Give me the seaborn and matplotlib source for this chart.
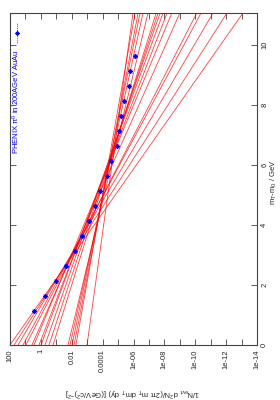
import matplotlib
matplotlib.use("Agg")
from matplotlib import pyplot as plt
import seaborn as sns
import pandas as pd

# PHENIX pi0 points (m_T - m_0 in GeV, invariant yield)
mt_data = [1.12, 1.62, 2.12, 2.62, 3.12, 3.62, 4.12, 4.62, 5.12,
           5.62, 6.12, 6.62, 7.12, 7.62, 8.12, 8.62, 9.12, 9.62]
yield_data = [2.8, 0.54, 0.105, 0.023, 6.2e-3, 2.2e-3, 7.6e-4, 3.1e-4, 1.5e-4,
              5.2e-5, 2.9e-5, 1.2e-5, 8.7e-6, 6.5e-6, 4.2e-6, 1.95e-6, 1.7e-6, 7.9e-7]

# exponential fits: log10 of yield at m_T-m_0 = 0 and slope in decades per GeV
fit_log_amp = [2.00, 1.74, 1.48, 1.16, 0.97, 0.58, 0.45, 0.12, -0.01, -0.27,
               -0.53, -0.79, -1.76, -1.89, -2.02, -2.15, -2.27, -2.99]
fit_slope = [-1.363, -1.246, -1.141, -1.042, -1.000, -0.866, -0.807, -0.749, -0.714,
             -0.673, -0.638, -0.603, -0.468, -0.427, -0.398, -0.375, -0.346, -0.269]
mt_range = [0.0, 12.0]

xtick_vals = [1e2, 1, 1e-2, 1e-4, 1e-6, 1e-8, 1e-10, 1e-12, 1e-14]
xtick_labels = ["100", "1", "0.01", "0.0001", "1e-06", "1e-08", "1e-10", "1e-12", "1e-14"]
xminor_vals = [1e1, 1e-1, 1e-3, 1e-5, 1e-7, 1e-9, 1e-11, 1e-13]
ytick_vals = [0, 2, 4, 6, 8, 10]

rows = []
for i, (a, s) in enumerate(zip(fit_log_amp, fit_slope)):
    for m in mt_range:
        rows.append({"fit": i, "mt": m, "y": 10 ** (a + s * m)})
fits = pd.DataFrame(rows)
points = pd.DataFrame({"mt": mt_data, "y": yield_data})

sns.set_style("ticks")
plt.rcParams["font.family"] = ["Liberation Sans", "DejaVu Sans"]
plt.rcParams["mathtext.default"] = "regular"

fig = plt.figure(figsize=(2.8, 4.0), dpi=100)
ax = fig.add_axes([10 / 280, 55 / 400, 247 / 280, 332 / 400])
ax.set_xscale("log")

sns.lineplot(data=fits, x="y", y="mt", units="fit", estimator=None, orient="y",
             color="red", lw=0.6, alpha=0.75, legend=False, ax=ax)
sns.scatterplot(data=points, x="y", y="mt", marker=(8, 2, 0), color="blue",
                s=9, linewidth=0.7, legend=False, ax=ax, zorder=5)

ax.set_xlim(1e2, 1e-14)
ax.set_ylim(0, 11.07)

ax.set_xticks(xtick_vals)
ax.set_xticklabels(xtick_labels, rotation=90, fontsize=5.5, va="top", ha="center")
ax.set_xticks(xminor_vals, minor=True)
ax.set_xticklabels([], minor=True)
ax.set_yticks(ytick_vals)
ax.set_yticklabels([str(v) for v in ytick_vals], rotation=90, fontsize=5.5,
                   va="center", ha="left")
ax.yaxis.tick_right()
ax.tick_params(axis="both", which="both", direction="in", top=True, bottom=True,
               left=True, right=True, width=0.6, color="#444444")
ax.tick_params(axis="both", which="major", length=4, pad=3)
ax.tick_params(axis="x", which="minor", length=4)
for sp in ax.spines.values():
    sp.set_linewidth(0.8)
    sp.set_color("#444444")

ax.set_xlabel("")
ax.set_ylabel("")
fig.text(133 / 280, 1 - 392 / 400,
         r"$1/N_{evt}\ d^2N/(2\pi\ m_T\ dm_T\ dy)\ [(GeV/c^2)^{-2}]$",
         rotation=180, fontsize=5.5, ha="center", va="center")
fig.text(274 / 280, 1 - 182 / 400, r"$m_T$-$m_0$ / GeV",
         rotation=90, fontsize=5.5, ha="center", va="center")

# key
ax.text(0.025, 0.889, r"PHENIX $\pi^0$ in 200AGeV AuAu", transform=ax.transAxes,
        rotation=90, fontsize=5.5, color="blue", ha="center", va="top")
ax.plot([0.028, 0.028], [0.910, 0.970], transform=ax.transAxes, color="blue",
        lw=0.5, ls=(0, (1.5, 1.5)))
ax.plot([0.028], [0.940], transform=ax.transAxes, color="blue",
        marker=(8, 2, 0), ms=3, mew=0.7)

plt.savefig("out.png", dpi=100)
